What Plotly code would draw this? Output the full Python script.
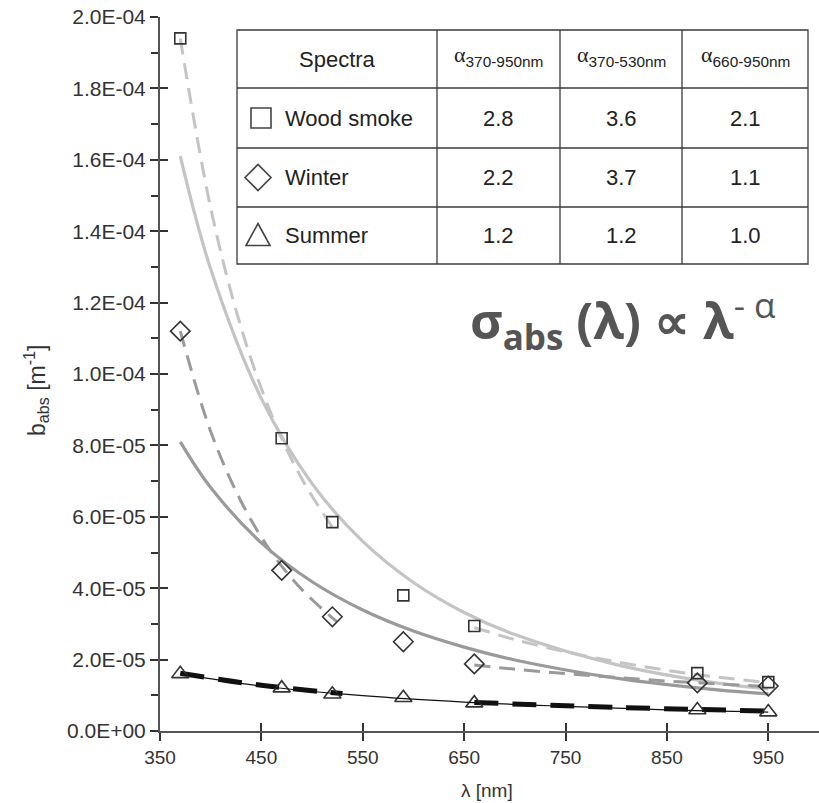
import plotly.graph_objects as go

# ---------------- data ----------------
wavelengths = [370, 470, 520, 590, 660, 880, 950]
wood_smoke = [1.94e-4, 8.2e-5, 5.85e-5, 3.8e-5, 2.94e-5, 1.62e-5, 1.37e-5]
winter = [1.12e-4, 4.5e-5, 3.2e-5, 2.5e-5, 1.88e-5, 1.35e-5, 1.26e-5]
summer = [1.6e-5, 1.2e-5, 1.03e-5, 9.3e-6, 7.8e-6, 5.9e-6, 5.3e-6]

# full-range fits (370-950 nm)
fit_wl = [370, 400, 450, 500, 550, 600, 650, 700, 800, 900, 950]
wood_fit = [1.61e-4, 1.294e-4, 9.31e-5, 6.93e-5, 5.31e-5, 4.16e-5, 3.32e-5, 2.70e-5, 1.86e-5, 1.34e-5, 1.18e-5]
winter_fit = [8.1e-5, 6.82e-5, 5.27e-5, 4.18e-5, 3.39e-5, 2.80e-5, 2.35e-5, 1.99e-5, 1.48e-5, 1.15e-5, 1.04e-5]
summer_fit_wl = [370, 450, 550, 650, 750, 850, 950]
summer_fit = [1.6e-5, 1.26e-5, 9.9e-6, 8.1e-6, 6.9e-6, 5.9e-6, 5.3e-6]

# partial-range fits (370-530 nm and 660-950 nm)
short_wl = [370, 400, 430, 460, 490, 525]
long_wl = [660, 700, 750, 800, 850, 900, 950]
wood_short = [1.94e-4, 1.465e-4, 1.13e-4, 8.86e-5, 7.06e-5, 5.5e-5]
wood_long = [2.9e-5, 2.56e-5, 2.22e-5, 1.94e-5, 1.70e-5, 1.51e-5, 1.35e-5]
winter_short = [1.12e-4, 8.39e-5, 6.43e-5, 5.0e-5, 3.96e-5, 3.05e-5]
winter_long = [1.85e-5, 1.73e-5, 1.61e-5, 1.50e-5, 1.40e-5, 1.32e-5, 1.24e-5]
summer_short_wl = [370, 450, 530]
summer_short = [1.62e-5, 1.28e-5, 1.05e-5]
summer_long_wl = [660, 800, 950]
summer_long = [8.0e-6, 6.6e-6, 5.6e-6]

# table content
table_rows = ["Wood smoke", "Winter", "Summer"]
table_first_header = "Spectra"
alpha_ranges = ["370-950nm", "370-530nm", "660-950nm"]
alpha_370_950 = ["2.8", "2.2", "1.2"]
alpha_370_530 = ["3.6", "3.7", "1.2"]
alpha_660_950 = ["2.1", "1.1", "1.0"]

# ticks
x_tickvals = [350, 450, 550, 650, 750, 850, 950]
y_tickvals = [0, 2e-5, 4e-5, 6e-5, 8e-5, 1e-4, 1.2e-4, 1.4e-4, 1.6e-4, 1.8e-4, 2e-4]
y_ticktext = ["0.0E+00", "2.0E-05", "4.0E-05", "6.0E-05", "8.0E-05", "1.0E-04",
              "1.2E-04", "1.4E-04", "1.6E-04", "1.8E-04", "2.0E-04"]
y_minor_vals = [1e-5, 3e-5, 5e-5, 7e-5, 9e-5, 1.1e-4, 1.3e-4, 1.5e-4, 1.7e-4, 1.9e-4]

# ---------------- layout geometry ----------------
W, H = 819, 803
ML, MR, MT, MB = 160, 0, 17, 72
PW, PH = W - ML - MR, H - MT - MB


def px(x):
    return (x - ML) / PW


def py(y):
    return (H - MB - y) / PH


LIGHT = "#c4c4c4"
MID = "#9a9a9a"
DARK = "#111111"
MK = "#333333"


def join(a, b):
    return list(a) + [None] + list(b)


fig = go.Figure()

# full fits (solid)
fig.add_trace(go.Scatter(x=fit_wl, y=wood_fit, mode="lines", line=dict(color=LIGHT, width=3.2, shape="spline"),
                         hoverinfo="skip"))
fig.add_trace(go.Scatter(x=fit_wl, y=winter_fit, mode="lines", line=dict(color=MID, width=3.2, shape="spline"),
                         hoverinfo="skip"))
# summer fit drawn on the overlay axes (identical ranges) so the crossing tick marks are rendered
fig.add_trace(go.Scatter(x=summer_fit_wl, y=summer_fit, mode="lines", xaxis="x2", yaxis="y2",
                         line=dict(color=DARK, width=1.2, shape="spline"), hoverinfo="skip"))

# partial fits (dashed)
fig.add_trace(go.Scatter(x=join(short_wl, long_wl), y=join(wood_short, wood_long), mode="lines",
                         line=dict(color=LIGHT, width=3, dash="16px,9px", shape="spline"), connectgaps=False,
                         hoverinfo="skip"))
fig.add_trace(go.Scatter(x=join(short_wl, long_wl), y=join(winter_short, winter_long), mode="lines",
                         line=dict(color=MID, width=3, dash="16px,9px", shape="spline"), connectgaps=False,
                         hoverinfo="skip"))
fig.add_trace(go.Scatter(x=join(summer_short_wl, summer_long_wl), y=join(summer_short, summer_long), mode="lines",
                         line=dict(color=DARK, width=5, dash="24px,14px", shape="spline"), connectgaps=False,
                         hoverinfo="skip"))

# measured points
fig.add_trace(go.Scatter(x=wavelengths, y=wood_smoke, mode="markers",
                         marker=dict(symbol="square-open", size=11, color=MK, line=dict(width=1.6, color=MK))))
fig.add_trace(go.Scatter(x=wavelengths, y=winter, mode="markers",
                         marker=dict(symbol="diamond-open", size=15, color=MK, line=dict(width=1.6, color=MK))))
fig.add_trace(go.Scatter(x=wavelengths, y=summer, mode="markers",
                         marker=dict(symbol="triangle-up-open", size=15, color=MK, line=dict(width=1.6, color=MK))))

fig.update_layout(
    width=W, height=H,
    margin=dict(l=ML, r=MR, t=MT, b=MB),
    paper_bgcolor="white", plot_bgcolor="white",
    showlegend=False,
    xaxis=dict(range=[350, 1000], tickmode="array", tickvals=x_tickvals, ticks="outside", ticklen=8,
               tickwidth=1.5, tickcolor="#333", showline=True, linecolor="#555", linewidth=2,
               showgrid=False, zeroline=False,
               tickfont=dict(family="Liberation Sans, Arial", size=19, color="#333333")),
    yaxis=dict(range=[0, 2e-4], tickmode="array", tickvals=y_tickvals, ticktext=y_ticktext,
               ticks="outside", ticklen=8, tickwidth=1.5, tickcolor="#333",
               minor=dict(tickmode="array", tickvals=y_minor_vals, ticks="outside", ticklen=7,
                          tickwidth=1.5, tickcolor="#333", showgrid=False),
               showline=True, linecolor="#555", linewidth=2, showgrid=False, zeroline=False,
               tickfont=dict(family="Liberation Sans, Arial", size=21, color="#333333")),
    xaxis2=dict(overlaying="x", anchor="y2", side="bottom", range=[350, 1000], tickmode="array",
                tickvals=x_tickvals, ticks="inside", ticklen=8, tickwidth=1.5, tickcolor="#333",
                showticklabels=False, showline=False, showgrid=False, zeroline=False),
    yaxis2=dict(overlaying="y", anchor="x2", side="left", range=[0, 2e-4], tickmode="array",
                tickvals=y_tickvals, ticks="inside", ticklen=8, tickwidth=1.5, tickcolor="#333",
                showticklabels=False, showline=False, showgrid=False, zeroline=False),
)

shapes = []
annotations = []

# table
col_px = [237, 437, 560, 682, 808]
row_px = [30, 88, 148, 207, 264]
shapes.append(dict(type="rect", xref="paper", yref="paper", x0=px(col_px[0]), x1=px(col_px[-1]),
                   y0=py(row_px[-1]), y1=py(row_px[0]), fillcolor="white",
                   line=dict(color="#3a3a3a", width=1.3), layer="above"))
for c in col_px[1:-1]:
    shapes.append(dict(type="line", xref="paper", yref="paper", x0=px(c), x1=px(c),
                       y0=py(row_px[-1]), y1=py(row_px[0]), line=dict(color="#3a3a3a", width=1.3)))
for r in row_px[1:-1]:
    shapes.append(dict(type="line", xref="paper", yref="paper", x0=px(col_px[0]), x1=px(col_px[-1]),
                       y0=py(r), y1=py(r), line=dict(color="#3a3a3a", width=1.3)))

tfont = dict(family="Liberation Sans, Arial", size=22, color="#222222")
row_c = [(row_px[i] + row_px[i + 1]) / 2 for i in range(4)]
col_c = [(col_px[i] + col_px[i + 1]) / 2 for i in range(4)]

annotations.append(dict(text=table_first_header, x=px(col_c[0]), y=py(row_c[0]), xref="paper", yref="paper",
                        showarrow=False, font=tfont, xanchor="center", yanchor="middle"))
for j, rng in enumerate(alpha_ranges):
    annotations.append(dict(text=f'<span style="font-family:Liberation Serif">α</span><sub>{rng}</sub>',
                            x=px(col_c[j + 1]), y=py(row_c[0] - 3), xref="paper", yref="paper",
                            showarrow=False,
                            font=dict(family="Liberation Sans, Arial", size=22, color="#222"),
                            xanchor="center", yanchor="middle"))
for i, name in enumerate(table_rows):
    yc = row_c[i + 1]
    annotations.append(dict(text=name, x=px(283), y=py(yc), xref="paper", yref="paper", showarrow=False,
                            font=tfont, xanchor="left", yanchor="middle"))
    for j, vals in enumerate([alpha_370_950, alpha_370_530, alpha_660_950]):
        annotations.append(dict(text=vals[i], x=px(col_c[j + 1]), y=py(yc), xref="paper", yref="paper",
                                showarrow=False, font=tfont, xanchor="center", yanchor="middle"))

# table legend symbols
sym = dict(color="#444444", width=1.6)
cx, cy = 261, row_c[1]
shapes.append(dict(type="rect", xref="paper", yref="paper", x0=px(cx - 10), x1=px(cx + 10),
                   y0=py(cy + 10), y1=py(cy - 10), line=sym))
cx, cy = 258, row_c[2]
shapes.append(dict(type="path", xref="paper", yref="paper",
                   path=f"M {px(cx - 13)} {py(cy)} L {px(cx)} {py(cy - 13)} L {px(cx + 13)} {py(cy)} "
                        f"L {px(cx)} {py(cy + 13)} Z", line=sym))
cx, cy = 258, row_c[3]
shapes.append(dict(type="path", xref="paper", yref="paper",
                   path=f"M {px(cx - 12)} {py(cy + 10)} L {px(cx)} {py(cy - 12)} L {px(cx + 12)} {py(cy + 10)} Z",
                   line=sym))

# formula
annotations.append(dict(text="<b>σ<sub>abs</sub> (λ) ∝ λ</b><sup>- α</sup>", x=px(468), y=py(320),
                        xref="paper", yref="paper", showarrow=False, xanchor="left", yanchor="middle",
                        font=dict(family="Open Sans", size=50, color="#555555")))

# axis titles
annotations.append(dict(text="b<sub>abs</sub> [m<sup>-1</sup>]", x=px(36), y=py(390), xref="paper", yref="paper",
                        showarrow=False, textangle=-90, xanchor="center", yanchor="middle",
                        font=dict(family="Liberation Sans, Arial", size=23, color="#333")))
annotations.append(dict(text="λ [nm]", x=px(487), y=py(790), xref="paper", yref="paper", showarrow=False,
                        xanchor="center", yanchor="middle",
                        font=dict(family="Liberation Sans, Arial", size=19, color="#333")))

fig.update_layout(shapes=shapes, annotations=annotations)

fig.write_html("out.html")
